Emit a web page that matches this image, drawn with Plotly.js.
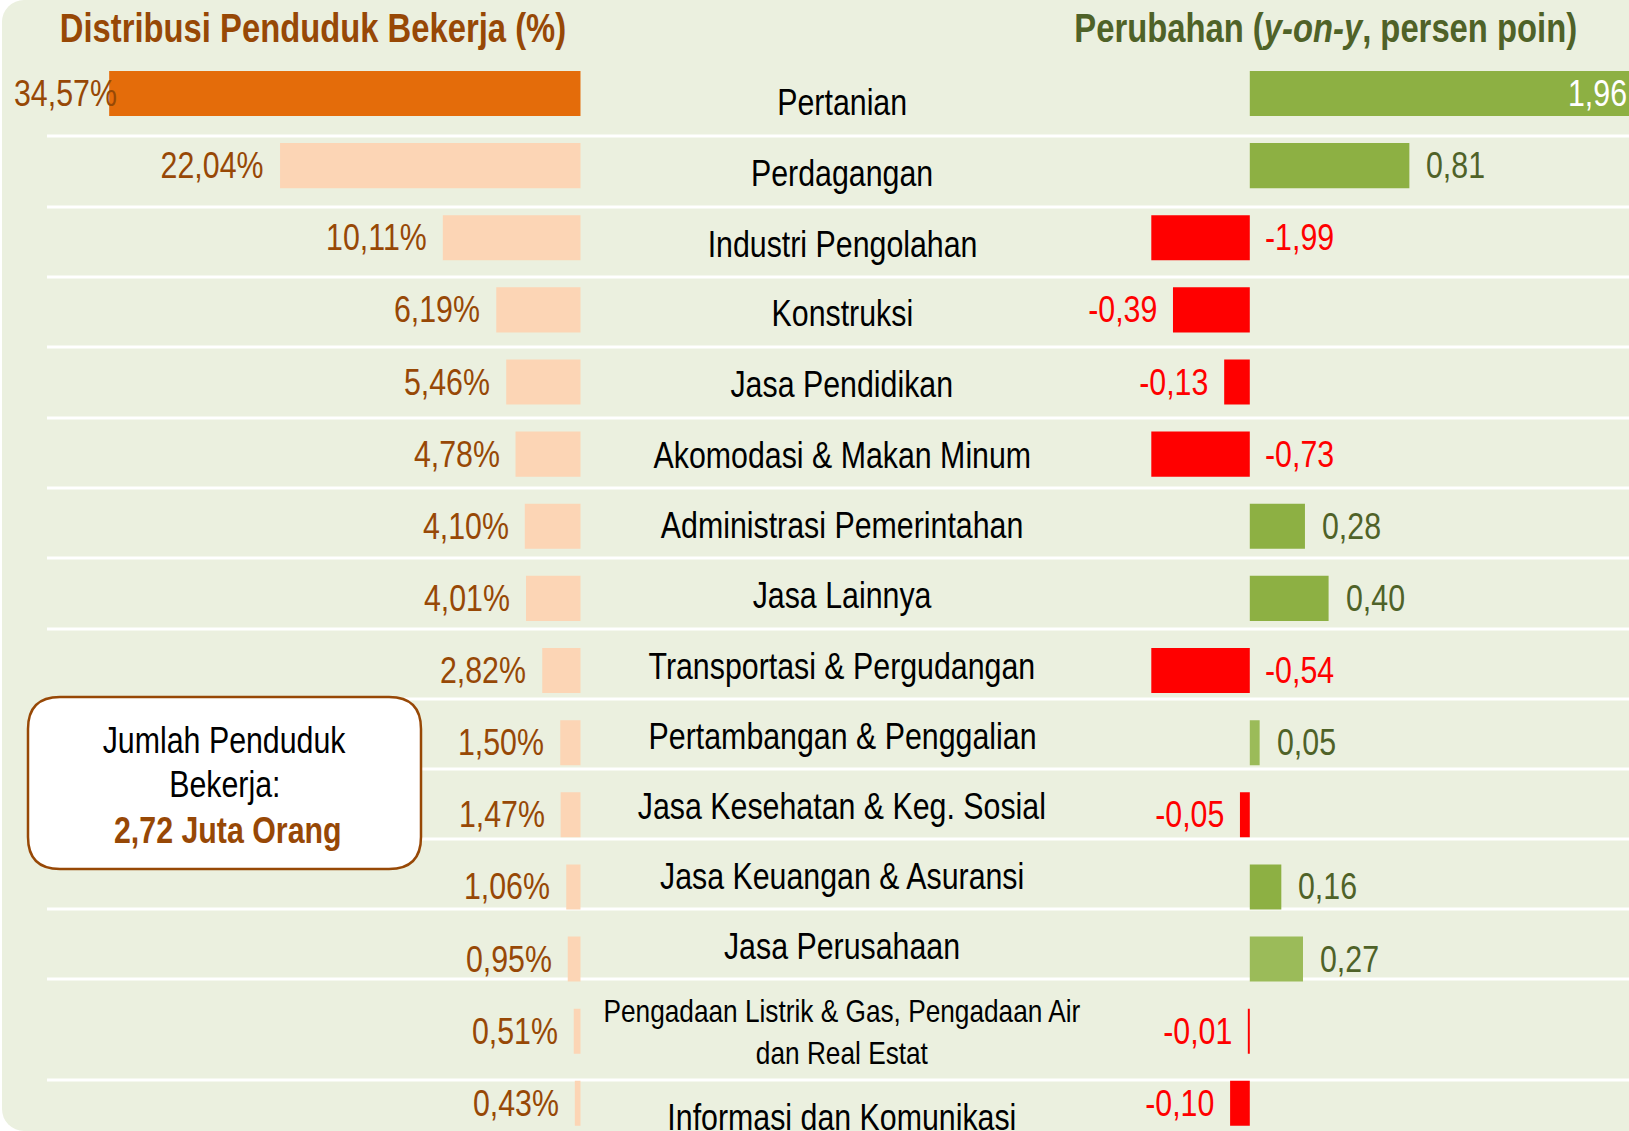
<!DOCTYPE html>
<html><head><meta charset="utf-8">
<script src="https://cdn.plot.ly/plotly-3.0.1.min.js"></script>
<style>
html,body{margin:0;padding:0;background:#ffffff;}
#wrap{position:relative;width:1629px;height:1131px;overflow:hidden;}
#frame{position:absolute;left:2px;top:0;width:1700px;height:1131px;background:#EBF0DF;border-radius:22px 0 0 22px;}
#chart{position:absolute;left:0;top:0;width:1629px;height:1131px;}
</style></head><body>
<div id="wrap"><div id="frame"></div><div id="chart"></div></div>
<script>
// ---------- data ----------
const categories = ['Pertanian','Perdagangan','Industri Pengolahan','Konstruksi','Jasa Pendidikan',
  'Akomodasi & Makan Minum','Administrasi Pemerintahan','Jasa Lainnya','Transportasi & Pergudangan',
  'Pertambangan & Penggalian','Jasa Kesehatan & Keg. Sosial','Jasa Keuangan & Asuransi','Jasa Perusahaan',
  'Pengadaan Listrik & Gas, Pengadaan Air dan Real Estat','Informasi dan Komunikasi'];
const distribusi = [34.57,22.04,10.11,6.19,5.46,4.78,4.10,4.01,2.82,1.50,1.47,1.06,0.95,0.51,0.43];
const perubahan = [1.96,0.81,-1.99,-0.39,-0.13,-0.73,0.28,0.40,-0.54,0.05,-0.05,0.16,0.27,-0.01,-0.10];
const leftTitle = 'Distribusi Penduduk Bekerja (%)';
const rightTitle = 'Perubahan (<i>y-on-y</i>, persen poin)';
const boxLines = ['Jumlah Penduduk','Bekerja:'];
const boxValue = '2,72 Juta Orang';

// ---------- layout constants (pixels) ----------
const W = 1629, H = 1131;
const FONT = '"Liberation Sans", Arial, sans-serif';
const NARROW = 0.82;   // horizontal condensing applied to texts (Arial Narrow look)
const rowPx = 72.13, firstRowPx = 93.5, barFrac = 0.625;
const leftZeroPx = 580.7, leftPxPerUnit = 13.64;
const rightZeroPx = 1249.8, rightPxPerUnit = 197, rightMin = -0.5;
const tableEdges = [66,136,207,277,347,418,488,558,629,699,769,839,909,979,1080,1151];
const lineStartPx = 47, labelCenterPx = 842;
const box = {x0:28, x1:421, y0:697, y1:869, r:32};

// colors
const C = {
  darkOrange:'#E46C0A', peach:'#FCD5B5', green:'#8DB043', lightGreen:'#9BBB59', red:'#FF0000',
  brown:'#974806', olive:'#4F6228'
};
const lightGreenCats = ['Pertambangan & Penggalian','Jasa Perusahaan'];

const px2x = p => p / W;
const px2y = p => 1 - p / H;
const fmt = v => v.toFixed(2).replace('.', ',');

const leftMax = leftZeroPx / leftPxPerUnit;
const rightMax = (W - rightZeroPx) / rightPxPerUnit;
const rightDomStart = (rightZeroPx + rightMin * rightPxPerUnit) / W;

const traces = [
  {type:'bar', orientation:'h', x:distribusi, y:categories, xaxis:'x', yaxis:'y', width:barFrac,
   marker:{color:distribusi.map((v,i)=> i===0 ? C.darkOrange : C.peach)}, hoverinfo:'skip'},
  {type:'bar', orientation:'h', x:perubahan, y:categories, xaxis:'x2', yaxis:'y', width:barFrac,
   marker:{color:perubahan.map((v,i)=> v < 0 ? C.red : (lightGreenCats.includes(categories[i]) ? C.lightGreen : C.green))},
   hoverinfo:'skip'}
];

const annotations = [];
const lblFont = (color, size) => ({family:FONT, size:size||37, color:color});

// left labels
distribusi.forEach((v,i)=>{
  if (v > leftMax * 0.75) {
    annotations.push({xref:'paper', yref:'y', x:0, y:categories[i], text:fmt(v)+'%', showarrow:false,
      xanchor:'left', yanchor:'middle', xshift:12, font:lblFont(C.brown)});
  } else {
    annotations.push({xref:'x', yref:'y', x:v, y:categories[i], text:fmt(v)+'%', showarrow:false,
      xanchor:'right', yanchor:'middle', xshift:-14, font:lblFont(C.brown)});
  }
});
// right labels
perubahan.forEach((v,i)=>{
  let a = {yref:'y', y:categories[i], text:fmt(v), showarrow:false, yanchor:'middle'};
  if (v > rightMax) {
    Object.assign(a, {xref:'paper', x:1, xanchor:'right', xshift:0, font:lblFont('#ffffff')});
  } else if (v >= 0) {
    Object.assign(a, {xref:'x2', x:v, xanchor:'left', xshift:15, font:lblFont(C.olive)});
  } else if (v >= rightMin) {
    Object.assign(a, {xref:'x2', x:v, xanchor:'right', xshift:-14, font:lblFont(C.red)});
  } else {
    Object.assign(a, {xref:'x2', x:0, xanchor:'left', xshift:13, font:lblFont(C.red)});
  }
  annotations.push(a);
});
// category names in the middle column
categories.forEach((c,i)=>{
  const mid = (tableEdges[i] + tableEdges[i+1]) / 2;
  const long = c.length > 40;
  annotations.push({xref:'paper', yref:'paper', x:px2x(labelCenterPx), y:px2y(mid + 2),
    text: long ? c.replace(', Pengadaan Air ', ', Pengadaan Air<br>') : c,
    showarrow:false, xanchor:'center', yanchor:'middle', align:'center',
    font:{family:FONT, size: long ? 32 : 37, color:'#000000'}});
});
// titles
annotations.push({xref:'paper', yref:'paper', x:px2x(313), y:px2y(28), text:'<b>'+leftTitle+'</b>',
  showarrow:false, xanchor:'center', yanchor:'middle', font:{family:FONT, size:40, color:C.brown}});
annotations.push({xref:'paper', yref:'paper', x:px2x(1325), y:px2y(28), text:'<b>'+rightTitle+'</b>',
  showarrow:false, xanchor:'center', yanchor:'middle', font:{family:FONT, size:40, color:C.olive}});
// info box text
const boxCx = (box.x0 + box.x1) / 2;
annotations.push({xref:'paper', yref:'paper', x:px2x(boxCx), y:px2y(740), text:boxLines[0],
  showarrow:false, xanchor:'center', yanchor:'middle', font:{family:FONT, size:37, color:'#000000'}});
annotations.push({xref:'paper', yref:'paper', x:px2x(boxCx), y:px2y(784), text:boxLines[1],
  showarrow:false, xanchor:'center', yanchor:'middle', font:{family:FONT, size:37, color:'#000000'}});
annotations.push({xref:'paper', yref:'paper', x:px2x(boxCx + 3), y:px2y(830), text:'<b>'+boxValue+'</b>',
  showarrow:false, xanchor:'center', yanchor:'middle', font:{family:FONT, size:37, color:C.brown}});

// shapes: separators + rounded box
const shapes = [];
tableEdges.slice(1, -1).forEach(e=>{
  shapes.push({type:'line', xref:'paper', yref:'paper', layer:'below',
    x0:px2x(lineStartPx), x1:1, y0:px2y(e), y1:px2y(e), line:{color:'#ffffff', width:3}});
});
function roundRect(b){
  const r=b.r;
  const P=(x,y)=>px2x(x).toFixed(5)+','+px2y(y).toFixed(5);
  return 'M'+P(b.x0+r,b.y0)+' L'+P(b.x1-r,b.y0)+' Q'+P(b.x1,b.y0)+' '+P(b.x1,b.y0+r)+
    ' L'+P(b.x1,b.y1-r)+' Q'+P(b.x1,b.y1)+' '+P(b.x1-r,b.y1)+
    ' L'+P(b.x0+r,b.y1)+' Q'+P(b.x0,b.y1)+' '+P(b.x0,b.y1-r)+
    ' L'+P(b.x0,b.y0+r)+' Q'+P(b.x0,b.y0)+' '+P(b.x0+r,b.y0)+' Z';
}
shapes.push({type:'path', xref:'paper', yref:'paper', layer:'above', path:roundRect(box),
  fillcolor:'#ffffff', line:{color:C.brown, width:2.5}});

const hidden = {showgrid:false, zeroline:false, showticklabels:false, showline:false, ticks:'', fixedrange:true};
const layout = {
  width:W, height:H, margin:{l:0,r:0,t:0,b:0,pad:0},
  paper_bgcolor:'rgba(0,0,0,0)', plot_bgcolor:'rgba(0,0,0,0)',
  showlegend:false, hovermode:false,
  xaxis: Object.assign({domain:[0, leftZeroPx / W], range:[leftMax, 0]}, hidden),
  xaxis2: Object.assign({domain:[rightDomStart, 1], range:[rightMin, rightMax], anchor:'y'}, hidden),
  yaxis: Object.assign({type:'category', categoryorder:'array', categoryarray:categories,
    domain:[0,1], range:[(H - firstRowPx) / rowPx, -firstRowPx / rowPx]}, hidden),
  annotations: annotations, shapes: shapes
};

function condense(gd){
  const texts = gd.querySelectorAll('g.annotation text.annotation-text');
  texts.forEach((t, idx)=>{
    const a = gd.layout.annotations[idx];
    const origin = a.xanchor === 'left' ? 'left' : (a.xanchor === 'right' ? 'right' : 'center');
    t.style.transformBox = 'fill-box';
    t.style.transformOrigin = origin + ' center';
    t.style.transform = 'scaleX(' + NARROW + ')';
  });
}
Plotly.newPlot('chart', traces, layout, {staticPlot:true, displayModeBar:false}).then(condense);
</script>
</body></html>
